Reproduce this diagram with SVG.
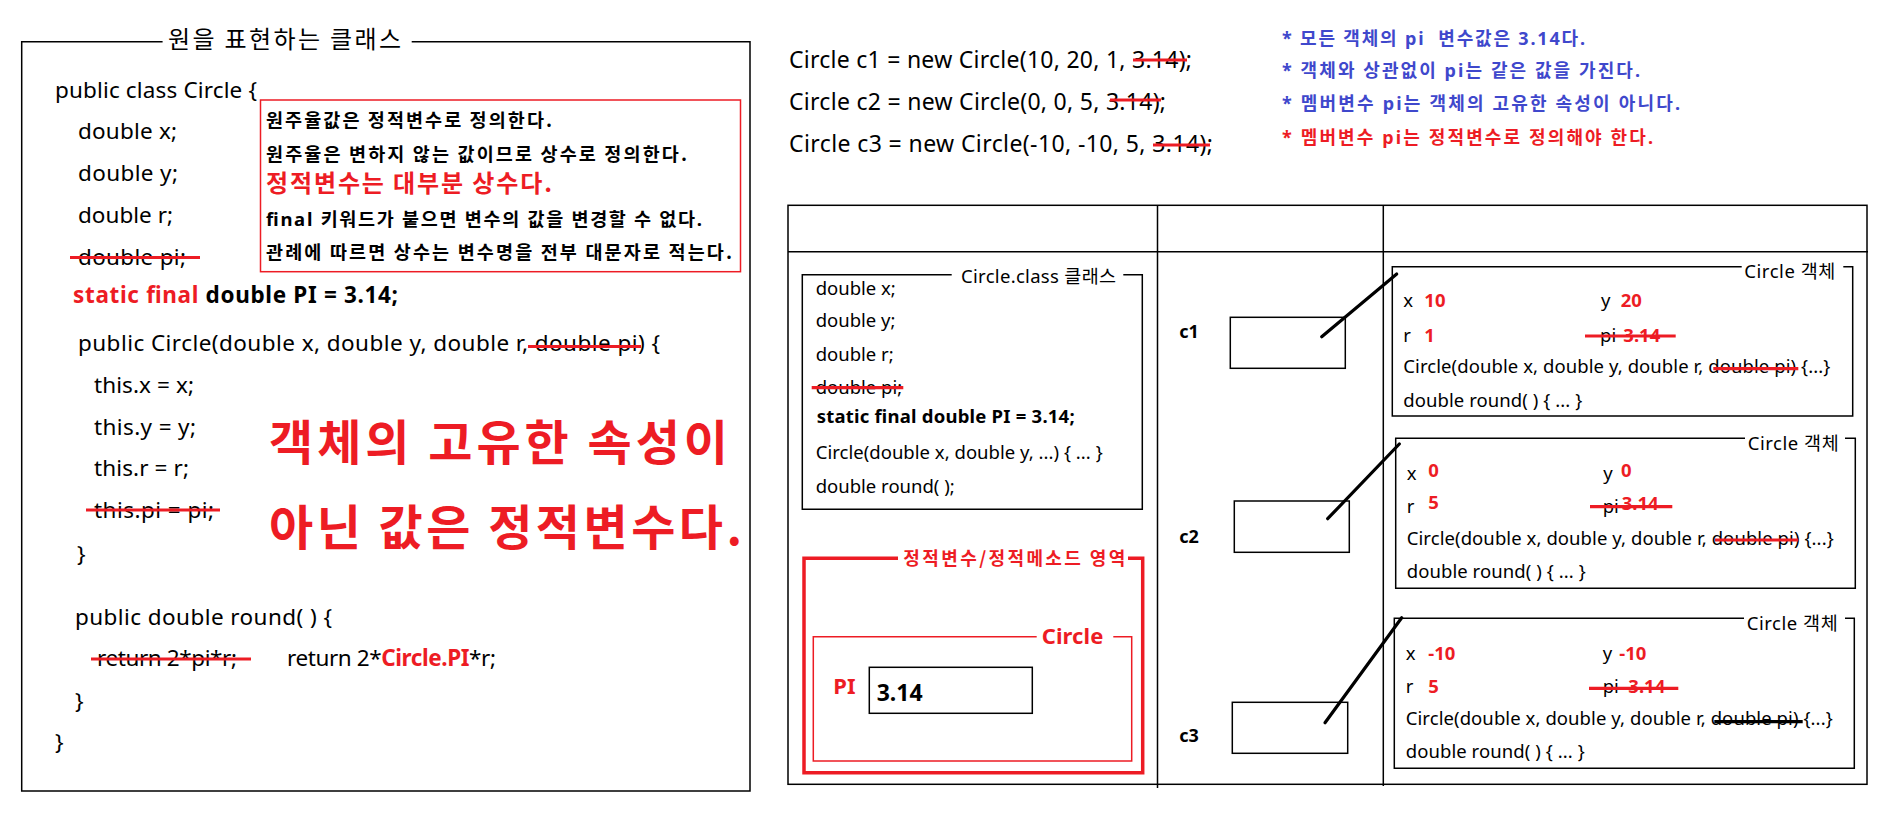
<svg xmlns="http://www.w3.org/2000/svg" width="1887" height="825" viewBox="0 0 1887 825">
<style>
text { font-family: "Noto Sans", "Noto Sans CJK KR", sans-serif; fill: #000; }
.code { font-size: 22.5px; }
.b { font-weight: bold; }
.red { fill: #ed1c24; }
.blue { fill: #3f48cc; }
.ko { font-family: "Noto Sans CJK KR", "Noto Sans", sans-serif; }
.s { font-size: 18.5px; }
.frame { fill: none; stroke: #000; stroke-width: 1.5; }
.rframe { fill: none; stroke: #ed1c24; stroke-width: 1.5; }
.strike { stroke: #ed1c24; stroke-width: 3.2; }
.bstrike { stroke: #000; stroke-width: 3.2; }
.ptr { stroke: #000; stroke-width: 3.2; stroke-linecap: round; fill: none; }
</style>
<rect width="1887" height="825" fill="#fff"/>

<g id="class-source">
  <path class="frame" d="M162.6,41.7 H21.7 V791 H750 V41.7 H411.7"/>
  <text class="ko" x="168" y="48" font-size="24" textLength="233">원을 표현하는 클래스</text>
  <text class="code" x="55" y="98" textLength="202">public class Circle {</text>
  <text class="code" x="78" y="139" textLength="99">double x;</text>
  <text class="code" x="78" y="181" textLength="100">double y;</text>
  <text class="code" x="78" y="223" textLength="95">double r;</text>
  <text class="code" x="78" y="265" textLength="108">double pi;</text>
  <line class="strike" x1="70" y1="257.5" x2="200" y2="257.5"/>
  <text class="code b" x="73" y="303" textLength="325"><tspan class="red">static final</tspan> double PI = 3.14;</text>
  <text class="code" x="78" y="351" textLength="582">public Circle(double x, double y, double r, double pi) {</text>
  <line class="strike" x1="528" y1="346.5" x2="641" y2="346.5"/>
  <text class="code" x="94" y="393" textLength="100">this.x = x;</text>
  <text class="code" x="94" y="435" textLength="102">this.y = y;</text>
  <text class="code" x="94" y="476" textLength="95">this.r = r;</text>
  <text class="code" x="94" y="518" textLength="120">this.pi = pi;</text>
  <line class="strike" x1="86" y1="510" x2="220" y2="510"/>
  <text class="code" x="77" y="562">}</text>
  <text class="code" x="75" y="625" textLength="257">public double round( ) {</text>
  <text class="code" x="97" y="666" textLength="140">return 2*pi*r;</text>
  <line class="strike" x1="91" y1="659" x2="251" y2="659"/>
  <text class="code" x="287" y="666" textLength="209">return 2*<tspan class="red b">Circle.PI</tspan>*r;</text>
  <text class="code" x="75" y="709">}</text>
  <text class="code" x="55" y="750">}</text>
</g>

<g id="callout">
  <rect class="rframe" x="260.5" y="100" width="480" height="171.7" stroke-width="1.3"/>
  <text class="ko b" x="266" y="127" font-size="18.5" textLength="286">원주율값은 정적변수로 정의한다.</text>
  <text class="ko b" x="266" y="161" font-size="18.5" textLength="421">원주율은 변하지 않는 값이므로 상수로 정의한다.</text>
  <text class="ko b red" x="266" y="192" font-size="24" textLength="286">정적변수는 대부분 상수다.</text>
  <text class="b" x="266" y="226" font-size="18.5" textLength="436">final 키워드가 붙으면 변수의 값을 변경할 수 없다.</text>
  <text class="ko b" x="266" y="259" font-size="18.5" textLength="466">관례에 따르면 상수는 변수명을 전부 대문자로 적는다.</text>
</g>

<g id="big-note">
  <text class="ko b red" x="269" y="460" font-size="48" textLength="459">객체의 고유한 속성이</text>
  <text class="ko b red" x="269" y="545" font-size="48" textLength="473">아닌 값은 정적변수다.</text>
</g>

<g id="constructors">
  <text x="789" y="68" font-size="23" textLength="403">Circle c1 = new Circle(10, 20, 1, 3.14);</text>
  <line class="strike" x1="1133" y1="60" x2="1187" y2="60"/>
  <text x="789" y="110" font-size="23" textLength="377">Circle c2 = new Circle(0, 0, 5, 3.14);</text>
  <line class="strike" x1="1110" y1="100" x2="1161" y2="100"/>
  <text x="789" y="152" font-size="23" textLength="424">Circle c3 = new Circle(-10, -10, 5, 3.14);</text>
  <line class="strike" x1="1153" y1="145" x2="1210" y2="145"/>
</g>

<g id="notes">
  <text class="b blue" x="1282" y="45" font-size="18" textLength="303" xml:space="preserve">* 모든 객체의 pi  변수값은 3.14다.</text>
  <text class="b blue" x="1282" y="77" font-size="18" textLength="358">* 객체와 상관없이 pi는 같은 값을 가진다.</text>
  <text class="b blue" x="1282" y="110" font-size="18" textLength="398">* 멤버변수 pi는 객체의 고유한 속성이 아니다.</text>
  <text class="b red" x="1282" y="144" font-size="18" textLength="371">* 멤버변수 pi는 정적변수로 정의해야 한다.</text>
</g>

<g id="memory-table">
  <rect class="frame" x="788" y="205.3" width="1079" height="579"/>
  <line class="frame" x1="788" y1="251.7" x2="1868" y2="251.7"/>
  <line class="frame" x1="1157.5" y1="205.3" x2="1157.5" y2="788"/>
  <line class="frame" x1="1383.3" y1="205.3" x2="1383.3" y2="786"/>
</g>

<g id="class-area">
  <path class="frame" d="M951.7,274.7 H802.3 V509.3 H1142.3 V274.7 H1123.3"/>
  <text class="s" x="961" y="283" textLength="155">Circle.class 클래스</text>
  <text class="s" x="815.7" y="295">double x;</text>
  <text class="s" x="815.7" y="327">double y;</text>
  <text class="s" x="815.7" y="360.5">double r;</text>
  <text class="s" x="815.7" y="394">double pi;</text>
  <line class="strike" x1="811.7" y1="387.7" x2="903.3" y2="387.7"/>
  <text class="s b" x="816.7" y="422.5" textLength="258">static final double PI = 3.14;</text>
  <text class="s" x="815.7" y="459" textLength="287">Circle(double x, double y, ...) { ... }</text>
  <text class="s" x="815.7" y="492.5" textLength="139">double round( );</text>
</g>

<g id="static-area">
  <path fill="none" stroke="#ed1c24" stroke-width="3.5" d="M898,558.3 H804 V772.7 H1142.7 V558.3 H1128"/>
  <text class="ko b red" x="903.3" y="565" font-size="18" textLength="222">정적변수/정적메소드 영역</text>
  <path class="rframe" d="M1036.7,636.7 H813.3 V761 H1131.7 V636.7 H1113.3"/>
  <text class="b red" x="1041.7" y="644" font-size="22" textLength="61.6">Circle</text>
  <text class="b red" x="833.3" y="694" font-size="22">PI</text>
  <rect class="frame" x="869.3" y="667.3" width="163" height="46"/>
  <text class="b" x="876.7" y="701" font-size="23">3.14</text>
</g>

<g id="ref-c1">
  <text class="b" x="1179.3" y="338" font-size="18">c1</text>
  <rect class="frame" x="1230.3" y="317.3" width="115" height="51"/>
</g>
<g id="ref-c2">
  <text class="b" x="1179.3" y="543" font-size="18">c2</text>
  <rect class="frame" x="1234.3" y="501" width="115" height="51.3"/>
</g>
<g id="ref-c3">
  <text class="b" x="1179.3" y="742" font-size="18">c3</text>
  <rect class="frame" x="1232.3" y="702.3" width="115.4" height="51"/>
</g>

<g id="object-c1">
  <path class="frame" d="M1741.7,266.7 H1392.3 V416 H1852.7 V266.7 H1843.3"/>
  <text class="s" x="1744.3" y="277.5" textLength="91">Circle 객체</text>
  <text class="s" x="1403.3" y="307">x</text>
  <text class="s b red" x="1424.3" y="307">10</text>
  <text class="s" x="1601" y="307">y</text>
  <text class="s b red" x="1620.7" y="307">20</text>
  <text class="s" x="1403.3" y="341.5">r</text>
  <text class="s b red" x="1424.3" y="341.5">1</text>
  <text class="s" x="1600" y="341.5">pi</text>
  <text class="s b red" x="1623.3" y="341.5">3.14</text>
  <line class="strike" x1="1585" y1="336" x2="1675.7" y2="336"/>
  <text class="s" x="1403.3" y="373" textLength="427">Circle(double x, double y, double r, double pi) {...}</text>
  <line class="strike" x1="1713.3" y1="368.7" x2="1798.3" y2="368.7"/>
  <text class="s" x="1403.3" y="406.5" textLength="179">double round( ) { ... }</text>
</g>

<g id="object-c2">
  <path class="frame" d="M1745,438.3 H1395.7 V588.3 H1855.3 V438.3 H1845"/>
  <text class="s" x="1747.7" y="450" textLength="91">Circle 객체</text>
  <text class="s" x="1406.7" y="480">x</text>
  <text class="s b red" x="1428.3" y="476.5">0</text>
  <text class="s" x="1603.3" y="480">y</text>
  <text class="s b red" x="1621" y="476.5">0</text>
  <text class="s" x="1406.7" y="512.5">r</text>
  <text class="s b red" x="1428.3" y="509">5</text>
  <text class="s" x="1602.7" y="512.5">pi</text>
  <text class="s b red" x="1621.7" y="510">3.14</text>
  <line class="strike" x1="1590" y1="506.7" x2="1672.3" y2="506.7"/>
  <text class="s" x="1406.7" y="545" textLength="427">Circle(double x, double y, double r, double pi) {...}</text>
  <line class="strike" x1="1715" y1="540" x2="1798.3" y2="540"/>
  <text class="s" x="1406.7" y="578" textLength="179">double round( ) { ... }</text>
</g>

<g id="object-c3">
  <path class="frame" d="M1744,618.3 H1394.3 V768.3 H1854.3 V618.3 H1845"/>
  <text class="s" x="1746.7" y="630" textLength="91">Circle 객체</text>
  <text class="s" x="1405.7" y="660">x</text>
  <text class="s b red" x="1428.3" y="660">-10</text>
  <text class="s" x="1602.7" y="660">y</text>
  <text class="s b red" x="1619.3" y="660">-10</text>
  <text class="s" x="1405.7" y="693">r</text>
  <text class="s b red" x="1428.3" y="693">5</text>
  <text class="s" x="1602.7" y="693">pi</text>
  <text class="s b red" x="1628.3" y="693">3.14</text>
  <line class="strike" x1="1589" y1="688.3" x2="1678.3" y2="688.3"/>
  <text class="s" x="1405.7" y="725" textLength="427">Circle(double x, double y, double r, double pi) {...}</text>
  <line class="bstrike" x1="1714.3" y1="721.7" x2="1802.7" y2="721.7"/>
  <text class="s" x="1405.7" y="758" textLength="179">double round( ) { ... }</text>
</g>

<g id="connectors">
  <line class="ptr" x1="1321.7" y1="336.7" x2="1396.7" y2="274"/>
  <line class="ptr" x1="1327.7" y1="518.7" x2="1399.3" y2="444"/>
  <line class="ptr" x1="1325" y1="722.7" x2="1401.7" y2="617.7"/>
</g>
</svg>
